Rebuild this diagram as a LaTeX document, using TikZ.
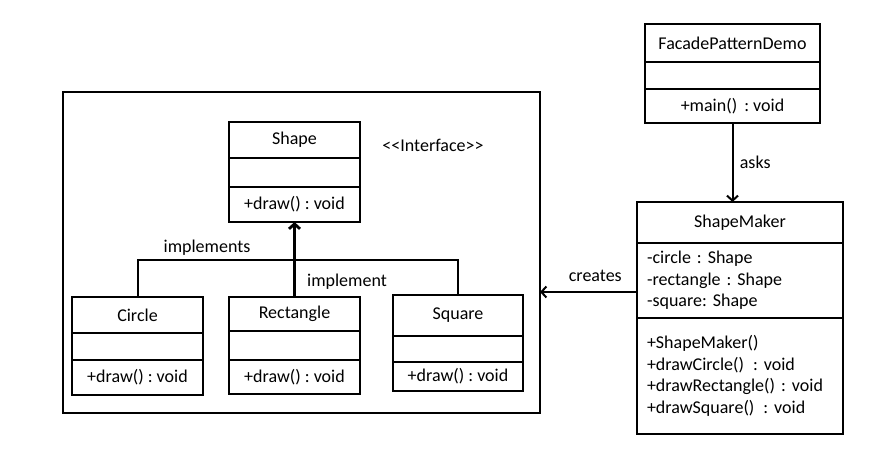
\documentclass[tikz,border=0pt]{standalone}
\usepackage{fontspec}
\setmainfont{Carlito}
\usetikzlibrary{arrows.meta,positioning}
\frenchspacing

\begin{document}
\begin{tikzpicture}[x=1pt,y=-1pt,line width=2pt,
  font=\fontsize{18}{21.5}\selectfont,
  >={Straight Barb[length=5pt,width=11pt]},
  cls/.style={draw,outer sep=0pt,inner sep=1pt,minimum width=#1},
  members/.style={align=left,text width=#1,inner xsep=10pt}]
  \useasboundingbox (0,0) rectangle (881,463);
  % Frame round the shapes
  \node[draw,outer sep=0pt,minimum width=477,minimum height=321] (shapes) at (301.5,252.5) {};
  % Shape interface
  \node[cls=131,minimum height=36] (shapeName) at (294.5,140) {Shape};
  \node[cls=131,minimum height=29,below=0pt of shapeName] (shapeAttr) {};
  \node[cls=131,minimum height=35,below=0pt of shapeAttr] (shapeOps) {+draw() : void};
  \node (stereo) at (433,145) {<\kern0pt<Interface>\kern0pt>};
  % Concrete classes
  \node[cls=131,minimum height=36] (circleName) at (137.5,315) {Circle};
  \node[cls=131,minimum height=27,below=0pt of circleName] (circleAttr) {};
  \node[cls=131,minimum height=35,below=0pt of circleAttr] (circleOps) {+draw() : void};
  \node[cls=131,minimum height=34] (rectName) at (294.5,314) {Rectangle};
  \node[cls=131,minimum height=29,below=0pt of rectName] (rectAttr) {};
  \node[cls=131,minimum height=34,below=0pt of rectAttr] (rectOps) {+draw() : void};
  \node[cls=130,minimum height=41] (squareName) at (458,315.5) {Square};
  \node[cls=130,minimum height=26,below=0pt of squareName] (squareAttr) {};
  \node[cls=130,minimum height=29,below=0pt of squareAttr] (squareOps) {+draw() : void};
  % Implementation lines
  \coordinate (joint) at (294.5,260);
  \draw (circleName.north) |- (joint);
  \draw (squareName.north) |- (joint);
  \draw[->,line width=2.8pt] (rectName.north) -- (shapeOps.south);
  \node (implLeft) at (207,248) {implements};
  \node (implRight) at (347,282) {implement};
  % Demo class
  \node[cls=175,minimum height=38] (demoName) at (732.5,43) {FacadePatternDemo};
  \node[cls=175,minimum height=27,below=0pt of demoName] (demoAttr) {};
  \node[cls=175,minimum height=34,below=0pt of demoAttr] (demoOps) {+main()\, : void};
  % Facade
  \node[cls=206,minimum height=41] (makerName) at (740,222.5) {ShapeMaker};
  \node[cls=206,members=186,minimum height=75,below=0pt of makerName] (makerAttr)
    {-circle : Shape\\-rectangle : Shape\\-square: Shape};
  \node[cls=206,members=186,minimum height=116,below=0pt of makerAttr] (makerOps)
    {+ShapeMaker()\\+drawCircle()\, : void\\+drawRectangle() : void\\+drawSquare()\, : void};
  % Associations
  \draw[->] (demoOps.south) -- (demoOps.south |- makerName.north)
    node[midway,right=3pt] (asksLabel) {asks};
  \coordinate (createsY) at (0,292);
  \draw[->] (makerAttr.west |- createsY) -- (shapes.east |- createsY)
    node[pos=0.43,above=6pt] (createsLabel) {creates};
\end{tikzpicture}
\end{document}
